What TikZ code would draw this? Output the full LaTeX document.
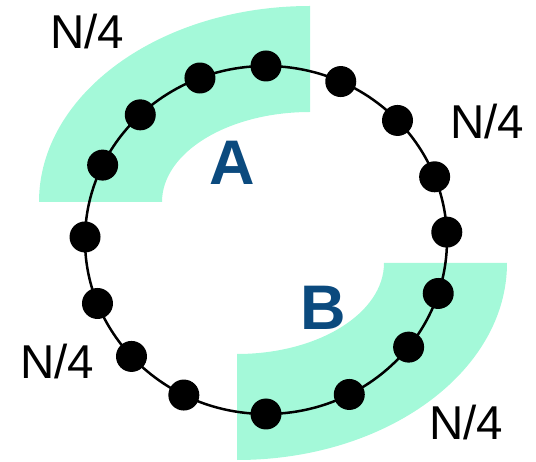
\documentclass[tikz,border=0pt]{standalone}
\usepackage{fontspec}
\setmainfont{Liberation Sans}
\usetikzlibrary{calc}
\definecolor{mint}{HTML}{A4F9D9}
\definecolor{letterblue}{HTML}{0B4A7E}
\begin{document}
\begin{tikzpicture}[x=1pt,y=1pt,
  bead/.style={circle,fill=black,minimum size=31pt,inner sep=0pt},
  quarterlbl/.style={inner sep=0pt,font=\fontsize{47.5}{50}\selectfont},
  bandlbl/.style={inner sep=0pt,text=letterblue,font=\fontsize{63}{66}\selectfont\bfseries},
  band/.style={fill=mint,draw=none}]
\useasboundingbox (0,0) rectangle (536,461);
% bands
\path[band] (39,259) arc[start angle=180,end angle=90,x radius=271,y radius=196]
  -- (310,349) arc[start angle=90,end angle=180,x radius=148,y radius=90] -- cycle;
\path[band] (507,198) arc[start angle=0,end angle=-90,x radius=270,y radius=197]
  -- (237,107) arc[start angle=-90,end angle=0,x radius=147,y radius=91] -- cycle;
% ring
\coordinate (c) at (266,221);
\draw[line width=2.5pt] (c) ellipse[x radius=181,y radius=174];
\foreach \a [count=\i] in {90,65.6,43.4,21.3,2.6,-17.9,-38,-62.6,-90,-117,-138,-158.6,179,154.5,134,111.4}
  \node[bead] (d\i) at ($(c)+({181*cos(\a)},{174*sin(\a)})$) {};
% labels
\node[quarterlbl] (q1) at (87,429) {N/4};
\node[quarterlbl] (q2) at (487,339) {N/4};
\node[quarterlbl] (q3) at (57,99) {N/4};
\node[quarterlbl] (q4) at (466,38) {N/4};
\node[bandlbl] (la) at (232,298) {A};
\node[bandlbl] (lb) at (323,153) {B};
\end{tikzpicture}
\end{document}
